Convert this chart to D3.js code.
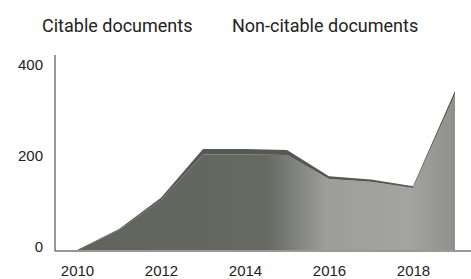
<!DOCTYPE html>
<html lang="en">
<head>
  <meta charset="UTF-8">
  <title>Citable vs non-citable documents</title>
  <style>
    body { margin: 0; background: #fff; }
    svg { font-family: Roboto, "Liberation Sans", sans-serif; }
    .axis path, .axis line { stroke: #333; }
  </style>
</head>
<body>
  <div id="chart"></div>
  <script src="https://d3js.org/d3.v7.min.js"></script>
  <script>
    // data
    const years = [2010, 2011, 2012, 2013, 2014, 2015, 2016, 2017, 2018, 2019];
    const citable = [0, 44, 110, 210, 210, 209, 156, 150, 136, 342];
    const nonCitable = [0, 2, 5, 12, 12, 11, 6, 5, 4, 8];
    const seriesNames = ['Citable documents', 'Non-citable documents'];
    const xTicks = [2010, 2012, 2014, 2016, 2018];
    const yTicks = [0, 200, 400];

    const W = 471, H = 279;
    const svg = d3.select('#chart').append('svg')
      .attr('width', W)
      .attr('height', H);

    const x = d3.scaleLinear().domain([2010, 2019]).range([77, 455]);
    const y = d3.scaleLinear().domain([0, 400]).range([250, 68]);

    const rows = years.map((yr, i) => ({ year: yr, citable: citable[i], nonCitable: nonCitable[i] }));
    const stacked = d3.stack().keys(['citable', 'nonCitable'])(rows);

    // gradient to mimic the darker left / lighter right fill
    const defs = svg.append('defs');
    const grad = defs.append('linearGradient')
      .attr('id', 'fillGrad')
      .attr('gradientUnits', 'userSpaceOnUse')
      .attr('x1', x(2010)).attr('x2', x(2019))
      .attr('y1', 0).attr('y2', 0);
    [[0, '#60645d'], [0.5, '#656962'], [0.66, '#9d9d99'], [0.88, '#a3a39f'], [1, '#8f8f8b']]
      .forEach(s => grad.append('stop').attr('offset', s[0]).attr('stop-color', s[1]));

    const colors = ['url(#fillGrad)', '#555853'];

    const area = d3.area()
      .x(d => x(d.data.year))
      .y0(d => y(d[0]))
      .y1(d => y(d[1]));

    svg.append('g')
      .selectAll('path')
      .data(stacked)
      .join('path')
      .attr('d', area)
      .attr('fill', (d, i) => colors[i]);

    // axes
    const xAxis = svg.append('g')
      .attr('class', 'axis')
      .attr('transform', 'translate(0,251)')
      .call(d3.axisBottom(x).tickValues(xTicks).tickFormat(d3.format('d')).tickSize(0).tickPadding(14));
    xAxis.select('.domain').attr('d', 'M55,0H471');
    xAxis.selectAll('text')
      .attr('font-size', 15)
      .attr('font-weight', 500)
      .attr('fill', '#222');

    const yAxis = svg.append('g')
      .attr('class', 'axis')
      .attr('transform', 'translate(55,0)')
      .call(d3.axisLeft(y).tickValues(yTicks).tickSize(0).tickPadding(12));
    yAxis.select('.domain').attr('d', 'M0,55V251');
    yAxis.selectAll('text')
      .attr('font-size', 15)
      .attr('font-weight', 500)
      .attr('fill', '#222')
      .attr('dy', '0.1em');

    // legend (text only)
    svg.append('g')
      .selectAll('text')
      .data(seriesNames)
      .join('text')
      .attr('x', (d, i) => [42, 232][i])
      .attr('y', 32)
      .attr('font-size', 18)
      .attr('fill', '#222')
      .text(d => d);
  </script>
</body>
</html>
